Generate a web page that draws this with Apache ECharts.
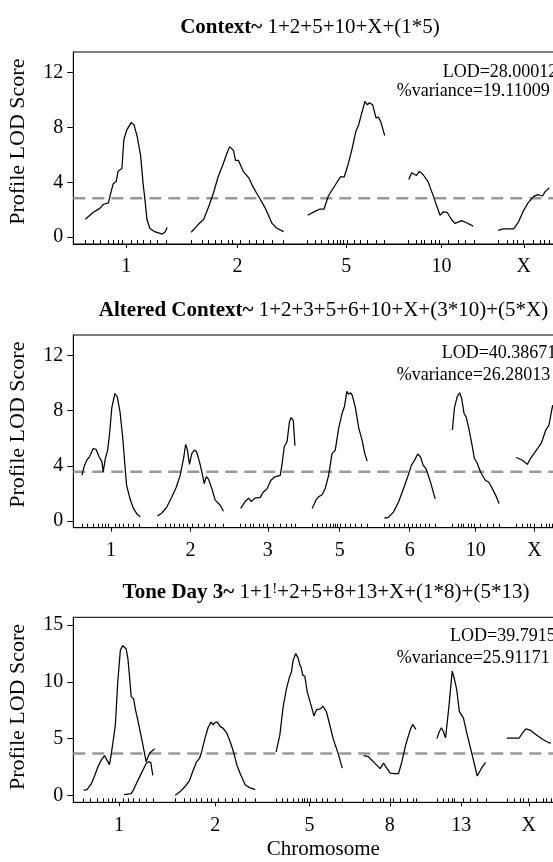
<!DOCTYPE html>
<html>
<head>
<meta charset="utf-8">
<script src="https://cdn.jsdelivr.net/npm/echarts@6/dist/echarts.min.js"></script>
<style>html,body{margin:0;padding:0;background:#fff}#chart{width:553px;height:862px}</style>
</head>
<body>
<div id="chart"></div>
<script>
// ---------- DATA ----------
const chromNames     = ['1', '2', '3', '5', '6', '8', '10', '13', 'X'];
const chromLengthsCM = [85, 96, 79, 80, 74, 63, 68, 59, 53];

// marker positions (cM) per chromosome (rug ticks)
const markersChr1  = [0, 8, 16, 24, 29, 34, 38, 48, 54, 60, 67, 75, 84];
const markersChr2  = [0, 11, 18, 25, 31, 38, 43, 51, 60, 68, 75, 84, 96];
const markersChr3  = [0, 7, 14, 19, 27, 33, 39, 47, 57, 67, 74, 79];
const markersChr5  = [0, 8, 14, 21, 27, 31, 34, 37, 41, 48, 55, 62, 71, 80];
const markersChr6  = [0, 7, 15, 22, 29, 35, 41, 47, 52, 60, 66, 74];
const markersChr8  = [0, 10, 20, 24, 32, 36, 44, 52, 60, 63];
const markersChr10 = [0, 8, 13, 16, 23, 28, 32, 41, 51, 59, 68];
const markersChr13 = [0, 8, 14, 18, 21, 32, 40, 49, 59];
const markersChrX  = [0, 9, 16, 20, 26, 36, 44, 48, 53];
const markerLists  = [markersChr1, markersChr2, markersChr3, markersChr5, markersChr6, markersChr8, markersChr10, markersChr13, markersChrX];

// Panel 1: Context  ([cM within chromosome, LOD])
const ctxChr1  = [[0,1.3],[8,1.8],[15,2.1],[19,2.4],[24,2.5],[26,3.1],[29,3.9],[32,4.05],[34,4.8],[38,5.0],[40,7.1],[43,7.8],[47.5,8.35],[50.5,8.2],[54,7.3],[57.5,5.9],[60,3.9],[62,2.7],[64,1.3],[67,0.65],[72,0.4],[80,0.22],[83,0.4],[85,0.7]];
const ctxChr2  = [[0,0.36],[7,0.9],[13,1.3],[18,2.2],[23,3.2],[28,4.4],[33,5.3],[37,6.1],[40,6.6],[42,6.55],[44,6.3],[46,5.6],[49,5.6],[54,4.8],[60,4.3],[64,3.7],[68,3.2],[71.5,2.8],[77,2.1],[84,1.0],[89,0.65],[96,0.4]];
const ctxChr5  = [[0,1.6],[8,1.9],[13,2.05],[17,2.05],[21.5,3.0],[25,3.4],[30,3.95],[34,4.4],[38,4.4],[42,5.3],[46,6.4],[50,7.7],[53,8.2],[56,9.0],[59.5,9.9],[62,9.65],[64,9.8],[67.5,9.65],[71,8.7],[73.5,8.75],[76,8.4],[80,7.4]];
const ctxChr10 = [[0,4.2],[3,4.7],[5,4.8],[8,4.5],[11,4.8],[15,4.55],[20,4.05],[25,3.1],[28,2.5],[32.5,1.6],[36,1.85],[40,1.8],[44.7,1.25],[48,1.0],[55,1.2],[60,1.05],[67,0.8]];
const ctxChrX  = [[0,0.5],[5,0.6],[16,0.6],[21,1.1],[26,1.9],[31,2.5],[36.5,2.95],[41,3.1],[46,3.0],[48.5,3.3],[53,3.6]];

// Panel 2: Altered Context
const altChr1  = [[0,3.3],[3,3.9],[7,4.4],[11,4.65],[16.5,5.25],[20.5,5.2],[25,4.65],[29,4.3],[31,3.55],[34,4.5],[37.5,5.15],[40,6.2],[43.5,8.2],[48,9.25],[51.5,9.0],[55.5,7.9],[59.5,6.0],[63,3.8],[65,2.6],[70,1.6],[75,0.9],[80.5,0.47],[85,0.3]];
const altChr2  = [[0,0.36],[6,0.55],[13.5,1.0],[21,1.75],[27,2.4],[33,3.3],[38,4.55],[41,5.55],[43.5,5.15],[46.5,4.1],[50,4.9],[54,5.15],[57,5.0],[61,4.3],[64.5,3.55],[68,2.7],[71,3.2],[74,3.05],[79,2.35],[84,1.5],[91,1.15],[96,0.7]];
const altChr3  = [[0,0.9],[6.5,1.4],[11.5,1.65],[15.5,1.4],[21,1.65],[28.5,1.7],[33,2.1],[38,2.3],[44,2.95],[50,3.2],[57.5,3.3],[60,4.05],[63.5,5.4],[67.5,5.75],[71,7.2],[73.5,7.5],[76.5,7.3],[79,5.45]];
const altChr5  = [[0,0.9],[5.5,1.5],[9.5,1.75],[14.5,1.9],[19,2.35],[24,3.3],[29,4.9],[33.5,5.1],[38.5,6.7],[43.5,7.8],[47,8.3],[50.5,9.4],[53,9.2],[56,9.3],[58.5,9.1],[63,8.2],[68,6.7],[72.5,5.9],[76.5,4.9],[80,4.35]];
const altChr6  = [[0,0.2],[6,0.25],[13.5,0.65],[21,1.4],[28,2.35],[34,3.2],[39.5,4.05],[44,4.4],[48.5,4.85],[52.5,4.65],[56.5,4.05],[61,3.75],[67,2.85],[74,1.6]];
const altChr10 = [[0,6.6],[3,8.2],[7,9.0],[10.5,9.3],[13.5,8.9],[17,7.8],[20,7.55],[24,6.7],[29,5.4],[32,4.55],[36,4.2],[41,3.55],[48,2.95],[53,2.8],[58,2.35],[63,1.85],[68,1.25]];
const altChrX  = [[0,4.6],[9,4.4],[16,4.1],[21,4.55],[26,4.9],[31.5,5.3],[36.5,5.65],[43,6.6],[47.5,6.95],[51,7.9],[53,8.4]];

// Panel 3: Tone Day 3
const toneChr1a = [[0,0.45],[4,0.5],[9,1.0],[13,1.7],[17,2.5],[21,3.1],[25,3.5],[28,3.1],[31,2.7],[33,3.6],[35,4.6],[38,6.2],[41,10.1],[44,12.8],[47,13.2],[49,13.2],[51,12.9],[53,12.1],[55,10.5],[57,8.7],[60,8.5],[62,7.6],[65,6.6],[70,4.85],[75,2.95],[79,3.7],[85,4.1]];
const toneChr1b = [[48.5,0.05],[57,0.15],[60,0.5],[63,1.0],[67,1.6],[71,2.2],[75,2.8],[78,2.95],[80.5,2.9],[83,1.75]];
const toneChr2  = [[0,0],[5.5,0.3],[11.5,0.75],[17,1.3],[21.5,2.2],[25.5,2.95],[29,3.25],[31.5,3.8],[35.5,5.0],[39.5,6.0],[43,6.45],[45.5,6.2],[47.5,6.4],[50.5,6.45],[53.5,6.1],[57.5,5.9],[62,5.45],[66,4.7],[70,3.8],[74,2.65],[78,1.9],[84,0.9],[90,0.65],[96,0.5]];
const toneChr5  = [[0,3.8],[4.5,5.3],[8.5,7.8],[12.5,9.4],[16,10.4],[18.5,10.9],[20.5,11.9],[23.5,12.5],[26.5,12.1],[28.5,11.5],[30,11.3],[32,10.6],[34.5,10.5],[37.5,9.1],[41,8.2],[45.5,7.0],[48.5,7.55],[52.5,7.6],[56.5,7.85],[60.5,7.35],[64.5,6.2],[68.5,5.0],[74.5,3.7],[79.5,2.4]];
const toneChr8  = [[0,3.5],[6,3.4],[12,2.95],[20,2.35],[24,2.85],[27,2.5],[32,1.95],[37,1.9],[42,1.9],[46,2.95],[51,4.55],[56,5.75],[59,6.25],[63,5.8]];
const toneChr13 = [[0,5.0],[3,5.6],[5.5,5.95],[8,5.6],[10.5,5.05],[14.5,7.8],[18.5,10.95],[21,10.3],[24,9.3],[27,7.4],[28.5,7.3],[32,6.8],[36,5.5],[40,4.3],[44,3.1],[48.5,1.7],[53,2.3],[58.5,2.9]];
const toneChrX  = [[0,5.05],[15,5.05],[19,5.5],[23,5.85],[28,5.75],[36,5.3],[44,4.9],[50,4.65],[53,4.6]];

// panel chromosome sets and curves
const ctxChroms      = ['1', '2', '5', '10', 'X'];
const ctxCurveChroms = ['1', '2', '5', '10', 'X'];
const ctxCurves      = [ctxChr1, ctxChr2, ctxChr5, ctxChr10, ctxChrX];

const altChroms      = ['1', '2', '3', '5', '6', '10', 'X'];
const altCurveChroms = ['1', '2', '3', '5', '6', '10', 'X'];
const altCurves      = [altChr1, altChr2, altChr3, altChr5, altChr6, altChr10, altChrX];

const toneChroms      = ['1', '2', '5', '8', '13', 'X'];
const toneCurveChroms = ['1', '1', '2', '5', '8', '13', 'X'];
const toneCurves      = [toneChr1a, toneChr1b, toneChr2, toneChr5, toneChr8, toneChr13, toneChrX];

const thresholds   = [2.84, 3.56, 3.68];
const yTickValues1 = [0, 4, 8, 12];
const yTickValues2 = [0, 4, 8, 12];
const yTickValues3 = [0, 5, 10, 15];

const titleBold  = ['Context~', 'Altered Context~', 'Tone Day 3~'];
const titleModel = ['1+2+5+10+X+(1*5)', '1+2+3+5+6+10+X+(3*10)+(5*X)', '1+1{s|!}+2+5+8+13+X+(1*8)+(5*13)'];
const lodLabels  = ['LOD=28.00012', 'LOD=40.38671', 'LOD=39.7915'];
const varLabels  = ['%variance=19.11009', '%variance=26.28013', '%variance=25.91171'];
const yAxisTitle = 'Profile LOD Score';
const xAxisTitle = 'Chromosome';

// ---------- CHART ----------
const FONT = "'Liberation Serif','Times New Roman',Times,serif";
const GAP = 25;
const lenOf = c => chromLengthsCM[chromNames.indexOf(c)];
const markersOf = c => markerLists[chromNames.indexOf(c)];

const panels = [
  {chroms: ctxChroms,  curveChroms: ctxCurveChroms,  curves: ctxCurves,  thr: thresholds[0], yMin: -0.5,  yMax: 13.5, ticks: yTickValues1, top: 52,    height: 192,
   titleX: 310, titleY: 27.7, lodX: 442.7, lodY: 72.3, varX: 396.7, varY: 91.7},
  {chroms: altChroms,  curveChroms: altCurveChroms,  curves: altCurves,  thr: thresholds[1], yMin: -0.5,  yMax: 13.5, ticks: yTickValues2, top: 335,   height: 192.7,
   titleX: 323.5, titleY: 310.5, lodX: 441.7, lodY: 353.3, varX: 396.7, varY: 375},
  {chroms: toneChroms, curveChroms: toneCurveChroms, curves: toneCurves, thr: thresholds[2], yMin: -0.62, yMax: 15.7, ticks: yTickValues3, top: 617.3, height: 185,
   titleX: 326, titleY: 592.5, lodX: 450, lodY: 636.7, varX: 396.7, varY: 658.3}
];

const grids = [], xAxes = [], yAxes = [], series = [], graphics = [];

panels.forEach((p, i) => {
  const offs = {};
  let pos = 0;
  p.chroms.forEach(c => { offs[c] = pos; pos += lenOf(c) + GAP; });
  const total = pos - GAP;
  const xmin = -GAP / 2, xmax = total + GAP / 2;
  const centers = p.chroms.map(c => offs[c] + lenOf(c) / 2);
  const markerPos = [];
  p.chroms.forEach(c => markersOf(c).forEach(m => markerPos.push(offs[c] + m)));

  grids.push({left: 73.3, width: 488, top: p.top, height: p.height, show: true,
              outerBoundsMode: 'none', containLabel: false,
              borderColor: '#000', borderWidth: 1, backgroundColor: 'transparent'});

  xAxes.push({
    type: 'value', gridIndex: i, min: xmin, max: xmax, position: 'bottom',
    axisLine: {show: true, onZero: false, lineStyle: {color: '#000', width: 1}},
    splitLine: {show: false},
    axisTick: {show: true, length: 4, customValues: centers, lineStyle: {color: '#000', width: 1}},
    axisLabel: {show: true, customValues: centers, fontFamily: FONT, fontSize: 20, color: '#000', margin: 13,
      formatter: v => {
        let best = 0, bd = Infinity;
        centers.forEach((cc, k) => { const d = Math.abs(cc - v); if (d < bd) { bd = d; best = k; } });
        return p.chroms[best];
      }}
  });
  xAxes.push({
    type: 'value', gridIndex: i, min: xmin, max: xmax, position: 'bottom',
    axisLine: {show: false, onZero: false}, splitLine: {show: false}, axisLabel: {show: false},
    axisTick: {show: true, inside: true, length: 4, customValues: markerPos, lineStyle: {color: '#000', width: 1}}
  });
  yAxes.push({
    type: 'value', gridIndex: i, min: p.yMin, max: p.yMax,
    axisLine: {show: true, onZero: false, lineStyle: {color: '#000', width: 1}},
    splitLine: {show: false},
    axisTick: {show: true, length: 6, customValues: p.ticks, lineStyle: {color: '#000', width: 1}},
    axisLabel: {show: true, customValues: p.ticks, fontFamily: FONT, fontSize: 20, color: '#000', margin: 10}
  });

  // threshold
  series.push({
    type: 'line', xAxisIndex: 2 * i, yAxisIndex: i, data: [[xmin, p.thr], [xmax, p.thr]],
    symbol: 'none', silent: true, z: 1,
    lineStyle: {color: '#999999', width: 2.4, type: [12, 7]}
  });
  // LOD profiles
  p.curves.forEach((cv, k) => {
    const off = offs[p.curveChroms[k]];
    series.push({
      type: 'line', xAxisIndex: 2 * i, yAxisIndex: i,
      data: cv.map(d => [off + d[0], d[1]]),
      symbol: 'none', silent: true, z: 3, clip: true,
      lineStyle: {color: '#000', width: 1.25}
    });
  });

  // texts
  graphics.push({type: 'text', x: p.titleX, y: p.titleY, silent: true,
    style: {text: '{b|' + titleBold[i] + '} ' + titleModel[i], fontFamily: FONT, fontSize: 21, fill: '#000',
      align: 'center', verticalAlign: 'middle',
      rich: {b: {fontFamily: FONT, fontSize: 21, fontWeight: 'bold', fill: '#000'},
             s: {fontFamily: FONT, fontSize: 15, fill: '#000', verticalAlign: 'top', padding: [0, 0, 6, 0]}}}});
  graphics.push({type: 'text', x: p.lodX, y: p.lodY, silent: true,
    style: {text: lodLabels[i], fontFamily: FONT, fontSize: 18, fill: '#000', align: 'left', verticalAlign: 'middle'}});
  graphics.push({type: 'text', x: p.varX, y: p.varY, silent: true,
    style: {text: varLabels[i], fontFamily: FONT, fontSize: 18, fill: '#000', align: 'left', verticalAlign: 'middle'}});
  graphics.push({type: 'text', x: 18.3, y: p.top + 89.7, rotation: Math.PI / 2, silent: true,
    style: {text: yAxisTitle, fontFamily: FONT, fontSize: 22, fill: '#000', align: 'center', verticalAlign: 'middle'}});
});

graphics.push({type: 'text', x: 323.3, y: 849, silent: true,
  style: {text: xAxisTitle, fontFamily: FONT, fontSize: 21, fill: '#000', align: 'center', verticalAlign: 'middle'}});

const chart = echarts.init(document.getElementById('chart'), null, {renderer: 'canvas'});
chart.setOption({
  animation: false,
  backgroundColor: '#fff',
  grid: grids,
  xAxis: xAxes,
  yAxis: yAxes,
  series: series,
  graphic: graphics
});
</script>
</body>
</html>
